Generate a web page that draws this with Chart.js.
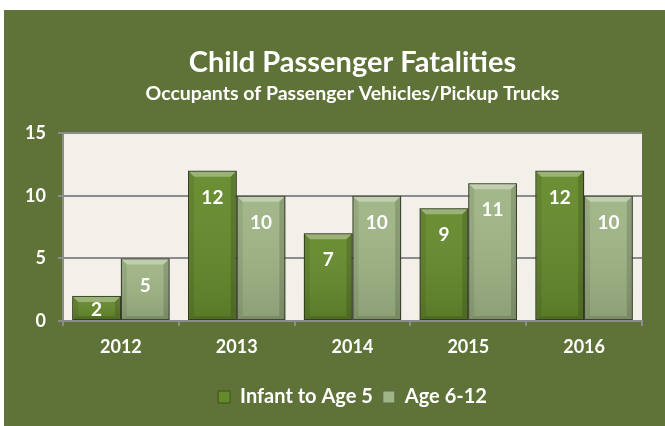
<!DOCTYPE html>
<html>
<head>
<meta charset="utf-8">
<script src="https://cdn.jsdelivr.net/npm/chart.js@4.4.1/dist/chart.umd.min.js"></script>
<style>
  html, body { margin: 0; padding: 0; background: #fff; }
  #wrap { position: absolute; left: 4px; top: 10px; width: 661px; height: 416px; background: #5f7339; }
</style>
</head>
<body>
<div id="wrap"><canvas id="chart"></canvas></div>
<script>
const years = [ '2012', '2013', '2014', '2015', '2016' ];
const infantToFive = [ 2, 12, 7, 9, 12 ];
const sixToTwelve = [ 5, 10, 10, 11, 10 ];
const yMax = 15;
const yStep = 5;

const FONT = 'Lato, "Open Sans", sans-serif';

// plot area fill
const plotBg = {
  id: 'plotBg',
  beforeDraw( chart ) {
    const { ctx, chartArea: a } = chart;
    ctx.save();
    ctx.fillStyle = '#f3efe9';
    ctx.fillRect( a.left, a.top, a.right - a.left, a.bottom - a.top );
    ctx.restore();
  }
};

// bevel look on bars + value labels
const bevel = {
  id: 'bevel',
  afterDatasetsDraw( chart ) {
    const ctx = chart.ctx;
    chart.data.datasets.forEach( ( ds, i ) => {
      const meta = chart.getDatasetMeta( i );
      meta.data.forEach( ( bar, j ) => {
        const x0 = bar.x - bar.width / 2;
        const x1 = bar.x + bar.width / 2;
        const y0 = bar.y;
        const y1 = bar.base;
        const d = 6;
        ctx.save();
        // face shading
        const g = ctx.createLinearGradient( 0, y0, 0, y1 );
        g.addColorStop( 0, 'rgba(255,255,255,0.04)' );
        g.addColorStop( 1, 'rgba(0,0,0,0.12)' );
        ctx.fillStyle = g;
        ctx.fillRect( x0, y0, x1 - x0, y1 - y0 );
        const poly = ( pts, color ) => {
          ctx.beginPath();
          ctx.moveTo( pts[ 0 ][ 0 ], pts[ 0 ][ 1 ] );
          pts.slice( 1 ).forEach( p => ctx.lineTo( p[ 0 ], p[ 1 ] ) );
          ctx.closePath();
          ctx.fillStyle = color;
          ctx.fill();
        };
        poly( [ [ x0, y0 ], [ x1, y0 ], [ x1 - d, y0 + d ], [ x0 + d, y0 + d ] ], 'rgba(255,255,255,0.32)' );
        poly( [ [ x0, y0 ], [ x0 + d, y0 + d ], [ x0 + d, y1 - 4 ], [ x0, y1 ] ], 'rgba(0,0,0,0.08)' );
        poly( [ [ x1, y0 ], [ x1 - d, y0 + d ], [ x1 - d, y1 - 4 ], [ x1, y1 ] ], 'rgba(0,0,0,0.14)' );
        poly( [ [ x0, y1 ], [ x0 + d, y1 - 4 ], [ x1 - d, y1 - 4 ], [ x1, y1 ] ], 'rgba(0,0,0,0.12)' );
        ctx.strokeStyle = 'rgba(40,50,25,0.75)';
        ctx.lineWidth = 1;
        ctx.strokeRect( x0 + 0.5, y0 + 0.5, x1 - x0 - 1, y1 - y0 - 1 );
        // value label
        ctx.fillStyle = '#ffffff';
        ctx.font = 'bold 19px ' + FONT;
        ctx.textAlign = 'center';
        ctx.textBaseline = 'middle';
        const ly = Math.min( y0 + 27, y1 - 10 );
        ctx.fillText( String( ds.data[ j ] ), bar.x, ly );
        ctx.restore();
      } );
    } );
  }
};

new Chart( document.getElementById( 'chart' ), {
  type: 'bar',
  data: {
    labels: years,
    datasets: [ {
      label: 'Infant to Age 5',
      data: infantToFive,
      backgroundColor: '#658a2c',
      borderColor: '#3d5219',
      borderWidth: 1,
    }, {
      label: 'Age 6-12',
      data: sixToTwelve,
      backgroundColor: '#9fb585',
      borderColor: '#5c6b48',
      borderWidth: 1,
    } ]
  },
  options: {
    responsive: true,
    maintainAspectRatio: false,
    animation: false,
    barPercentage: 1.0,
    categoryPercentage: 0.84,
    layout: {
      padding: { left: 0, right: 23, top: 0, bottom: 9 }
    },
    plugins: {
      title: {
        display: true,
        text: 'Child Passenger Fatalities',
        color: '#ffffff',
        font: { family: FONT, size: 29, weight: 'bold' },
        padding: { top: 35, bottom: 0 },
        fullSize: false,
      },
      subtitle: {
        display: true,
        text: 'Occupants of Passenger Vehicles/Pickup Trucks',
        color: '#ffffff',
        font: { family: FONT, size: 19.5, weight: 'bold' },
        padding: { top: 2, bottom: 28 },
        fullSize: false,
      },
      legend: {
        position: 'bottom',
        fullSize: false,
        labels: {
          color: '#ffffff',
          font: { family: FONT, size: 20, weight: 'bold' },
          boxWidth: 12,
          boxHeight: 12,
          padding: 10,
        }
      },
      tooltip: { enabled: false }
    },
    scales: {
      x: {
        grid: {
          offset: true,
          drawOnChartArea: false,
          drawTicks: true,
          tickLength: 5,
          color: '#8c8c8c',
          lineWidth: 2,
        },
        border: { display: true, color: '#8c8c8c', width: 2 },
        ticks: {
          color: '#ffffff',
          font: { family: FONT, size: 18, weight: 'bold' },
          padding: 10,
        },
        afterFit( scale ) { scale.height = 56; }
      },
      y: {
        min: 0,
        max: yMax,
        grid: {
          color: '#8c8c8c',
          lineWidth: 2,
          tickLength: 5,
        },
        border: { display: true, color: '#8c8c8c', width: 2 },
        ticks: {
          stepSize: yStep,
          color: '#ffffff',
          font: { family: FONT, size: 18, weight: 'bold' },
          padding: 12,
        },
        afterFit( scale ) { scale.width = 59; }
      }
    }
  },
  plugins: [ plotBg, bevel ]
} );
</script>
</body>
</html>
